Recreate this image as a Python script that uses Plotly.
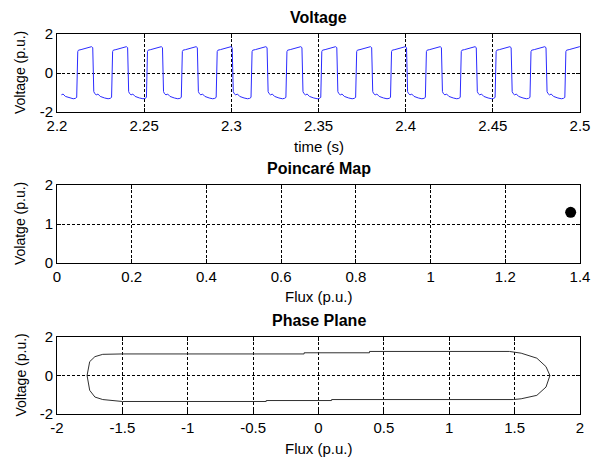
import plotly.graph_objects as go

# ---- voltage waveform ----
t_start = 2.2023  # the trace starts a little after the axis start
# times where each positive edge starts (one every ~20 ms)
rise_times = [2.1913, 2.2113, 2.2313, 2.2513, 2.2713, 2.2913, 2.3113, 2.3313,
              2.3513, 2.3713, 2.3913, 2.4113, 2.4313, 2.4513, 2.4713, 2.4913]
# one cycle of the waveform, offsets from the positive edge
cycle_offset = [0.0000, 0.0006, 0.0010, 0.0025, 0.0045, 0.0065, 0.0085, 0.0092,
                0.0098, 0.0103, 0.0112, 0.0122, 0.0135, 0.0160, 0.0180, 0.0192]
cycle_volt = [-1.25, 1.10, 1.17, 1.20, 1.25, 1.30, 1.35, 1.30,
              -0.95, -1.05, -1.12, -1.08, -1.20, -1.28, -1.32, -1.30]

# ---- poincare map ----
poinc_flux = [1.375]
poinc_volt = [1.30]

# ---- phase plane loop ----
phase_flux = [-1.77, -1.75, -1.71, -1.65, -1.50, -0.11, -0.11, 0.39, 0.39, 1.46,
              1.55, 1.67, 1.74, 1.77, 1.74, 1.67, 1.55, 1.49, 0.10, 0.10,
              -0.40, -0.40, -1.50, -1.65, -1.71, -1.75, -1.77]
phase_volt = [0.00, 0.72, 0.98, 1.10, 1.12, 1.12, 1.18, 1.18, 1.25, 1.25,
              1.16, 0.90, 0.46, 0.00, -0.60, -1.03, -1.21, -1.25, -1.25, -1.30,
              -1.30, -1.35, -1.35, -1.25, -1.12, -0.77, 0.00]

t_vals = [2.2, 2.25, 2.3, 2.35, 2.4, 2.45, 2.5]
t_text = ["2.2", "2.25", "2.3", "2.35", "2.4", "2.45", "2.5"]
flux_vals = [0, 0.2, 0.4, 0.6, 0.8, 1.0, 1.2, 1.4]
flux_text = ["0", "0.2", "0.4", "0.6", "0.8", "1", "1.2", "1.4"]
phase_vals = [-2, -1.5, -1, -0.5, 0, 0.5, 1, 1.5, 2]
phase_text = ["-2", "-1.5", "-1", "-0.5", "0", "0.5", "1", "1.5", "2"]

t = []
v = []
for r in rise_times:
    for off, val in zip(cycle_offset, cycle_volt):
        if r + off >= t_start:
            t.append(r + off)
            v.append(val)

FONT = "Liberation Sans, Arial, sans-serif"

fig = go.Figure()
fig.add_trace(go.Scatter(x=t, y=v, mode="lines", line=dict(color="#2b2bff", width=1),
                         xaxis="x", yaxis="y", showlegend=False))
fig.add_trace(go.Scatter(x=poinc_flux, y=poinc_volt, mode="markers",
                         marker=dict(color="black", size=11),
                         xaxis="x2", yaxis="y2", showlegend=False))
fig.add_trace(go.Scatter(x=phase_flux, y=phase_volt, mode="lines",
                         line=dict(color="#303030", width=1),
                         xaxis="x3", yaxis="y3", showlegend=False))

axis_style = dict(showline=True, linecolor="black", linewidth=1, mirror="ticks",
                  ticks="inside", ticklen=4, tickcolor="black",
                  showgrid=True, gridcolor="black", gridwidth=1, griddash="3px,2px",
                  zeroline=False, tickfont=dict(family=FONT, size=15, color="black"))

doms = [[0.7947, 1.0], [0.3974, 0.6026], [0.0, 0.2026]]

# page body adds 8px margin, so the figure is shrunk by that much
fig.update_layout(
    width=593, height=453,
    margin=dict(l=49, r=21, t=26, b=47),
    paper_bgcolor="white", plot_bgcolor="white",
    xaxis=dict(range=[2.2, 2.5], tickvals=t_vals, ticktext=t_text, anchor="y", **axis_style),
    yaxis=dict(range=[-2, 2], tickvals=[-2, 0, 2], ticktext=["-2", "0", "2"],
               domain=doms[0], anchor="x", **axis_style),
    xaxis2=dict(range=[0, 1.4], tickvals=flux_vals, ticktext=flux_text, anchor="y2", **axis_style),
    yaxis2=dict(range=[0, 2], tickvals=[0, 1, 2], ticktext=["0", "1", "2"],
                domain=doms[1], anchor="x2", **axis_style),
    xaxis3=dict(range=[-2, 2], tickvals=phase_vals, ticktext=phase_text, anchor="y3", **axis_style),
    yaxis3=dict(range=[-2, 2], tickvals=[-2, 0, 2], ticktext=["-2", "0", "2"],
                domain=doms[2], anchor="x3", **axis_style),
)

titles = ["Voltage", "Poincaré Map", "Phase Plane"]
xlabels = ["time (s)", "Flux (p.u.)", "Flux (p.u.)"]
ylabels = ["Voltage (p.u.)", "Volatge (p.u.)", "Voltage (p.u.)"]

for d, ttl, xl, yl in zip(doms, titles, xlabels, ylabels):
    fig.add_annotation(text="<b>" + ttl + "</b>", x=0.5, y=d[1], xref="paper", yref="paper",
                       yanchor="middle", yshift=17, showarrow=False,
                       font=dict(family=FONT, size=16, color="black"))
    fig.add_annotation(text=xl, x=0.5, y=d[0], xref="paper", yref="paper",
                       yanchor="middle", yshift=-34, showarrow=False,
                       font=dict(family=FONT, size=15, color="black"))
    fig.add_annotation(text=yl, x=-0.0707, y=(d[0] + d[1]) / 2, xref="paper", yref="paper",
                       xanchor="center", yanchor="middle", textangle=-90, showarrow=False,
                       font=dict(family=FONT, size=14, color="black"))

fig.write_html("out.html")
